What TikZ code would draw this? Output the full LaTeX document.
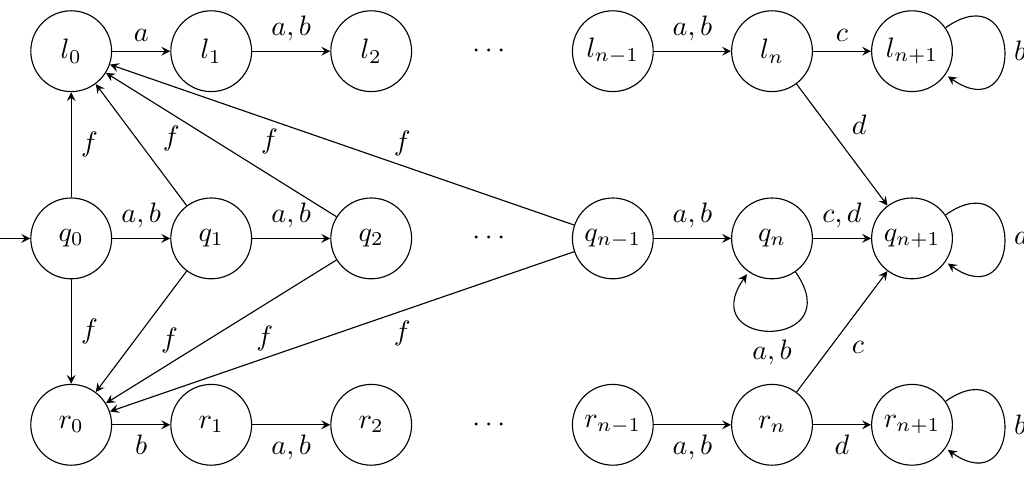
\documentclass[tikz,border=0pt]{standalone}
\begin{document}
\begin{tikzpicture}[->, >=stealth,
    state/.style = {circle, draw, minimum size=1.01cm, inner sep=0pt},
    every loop/.append style = {looseness=5.2}]
    \useasboundingbox (0,0) rectangle (12.8,6.15);
    % l row
    \node[state] (l0) at (0.89,5.51) {$l_0$};
    \node[state] (l1) at (2.64,5.51) {$l_1$};
    \node[state] (l2) at (4.64,5.51) {$l_2$};
    \node (ldots) at (6.11,5.51) {$\cdots$};
    \node[state] (lm) at (7.66,5.51) {$l_{n-1}$};
    \node[state] (ln) at (9.65,5.51) {$l_n$};
    \node[state] (lp) at (11.4,5.51) {$l_{n+1}$};
    % q row
    \node[state] (q0) at (0.89,3.17) {$q_0$};
    \node[state] (q1) at (2.64,3.17) {$q_1$};
    \node[state] (q2) at (4.64,3.17) {$q_2$};
    \node (qdots) at (6.11,3.17) {$\cdots$};
    \node[state] (qm) at (7.66,3.17) {$q_{n-1}$};
    \node[state] (qn) at (9.65,3.17) {$q_n$};
    \node[state] (qp) at (11.4,3.17) {$q_{n+1}$};
    % r row
    \node[state] (r0) at (0.89,0.84) {$r_0$};
    \node[state] (r1) at (2.64,0.84) {$r_1$};
    \node[state] (r2) at (4.64,0.84) {$r_2$};
    \node (rdots) at (6.11,0.84) {$\cdots$};
    \node[state] (rm) at (7.66,0.84) {$r_{n-1}$};
    \node[state] (rn) at (9.65,0.84) {$r_n$};
    \node[state] (rp) at (11.4,0.84) {$r_{n+1}$};
    \coordinate (start) at (0,3.17);

    \draw (start) -- (q0);
    \draw
    (l0) edge node[above] {$a$} (l1)
    (l1) edge node[above] {$a,b$} (l2)
    (lm) edge node[above] {$a,b$} (ln)
    (ln) edge node[above] {$c$} (lp)
    (lp) edge[out=35, in=-35, loop] node[right] {$b$} ()

    (q0) edge node[above] {$a,b$} (q1)
    (q1) edge node[above] {$a,b$} (q2)
    (qm) edge node[above] {$a,b$} (qn)
    (qn) edge node[above] {$c,d$} (qp)
    (qn) edge[out=-55, in=-125, loop] node[below] {$a,b$} ()
    (qp) edge[out=35, in=-35, loop] node[right] {$a$} ()

    (q0) edge node[right] {$f$} (l0)
    (q1) edge node[pos=0.37, above right] {$f$} (l0)
    (q2) edge node[pos=0.37, above right] {$f$} (l0)
    (qm) edge node[pos=0.37, above] {$f$} (l0)
    (q0) edge node[right] {$f$} (r0)
    (q1) edge node[pos=0.39, below right] {$f$} (r0)
    (q2) edge node[pos=0.39, below right] {$f$} (r0)
    (qm) edge node[pos=0.37, below] {$f$} (r0)

    (ln) edge node[above right] {$d$} (qp)
    (rn) edge node[below right] {$c$} (qp)

    (r0) edge node[below] {$b$} (r1)
    (r1) edge node[below] {$a,b$} (r2)
    (rm) edge node[below] {$a,b$} (rn)
    (rn) edge node[below] {$d$} (rp)
    (rp) edge[out=35, in=-35, loop] node[right] {$b$} ();
\end{tikzpicture}
\end{document}
